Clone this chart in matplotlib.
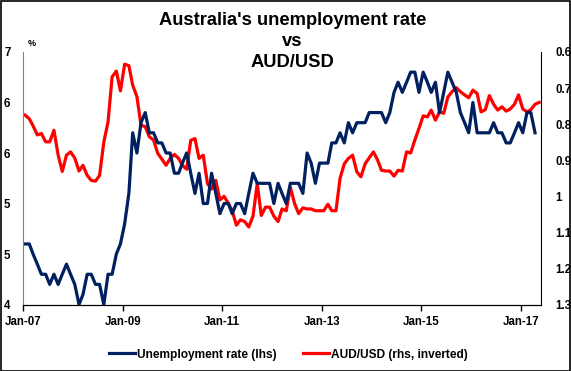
import math
import pandas as pd
import matplotlib
matplotlib.use("Agg")
import matplotlib.pyplot as plt
from matplotlib.ticker import FuncFormatter, FixedLocator
import matplotlib.dates as mdates

# monthly values from Jan-07
unemployment = [
    4.6, 4.6, 4.5, 4.4, 4.3, 4.3, 4.2, 4.3, 4.2, 4.3, 4.4, 4.3,
    4.2, 4.0, 4.1, 4.3, 4.3, 4.2, 4.2, 4.0, 4.3, 4.3, 4.5, 4.6,
    4.8, 5.1, 5.7, 5.5, 5.8, 5.9, 5.7, 5.7, 5.6, 5.6, 5.5, 5.5,
    5.3, 5.3, 5.4, 5.5, 5.3, 5.1, 5.3, 5.0, 5.0, 5.3, 5.1, 4.9,
    5.0, 5.0, 4.9, 5.0, 5.0, 4.9, 5.1, 5.3, 5.2, 5.2, 5.2, 5.2,
    5.0, 5.2, 5.1, 5.0, 5.2, 5.2, 5.2, 5.1, 5.5, 5.4, 5.2, 5.4,
    5.4, 5.4, 5.6, 5.6, 5.7, 5.6, 5.8, 5.7, 5.8, 5.8, 5.8, 5.9,
    5.9, 5.9, 5.9, 5.8, 5.9, 6.1, 6.2, 6.1, 6.2, 6.3, 6.3, 6.1,
    6.3, 6.2, 6.1, 6.2, 5.9, 6.1, 6.3, 6.2, 6.1, 5.9, 5.8, 5.7,
    6.0, 5.7, 5.7, 5.7, 5.7, 5.8, 5.7, 5.7, 5.6, 5.6, 5.7, 5.8,
    5.7, 5.9, 5.9, 5.7,
]
audusd = [
    0.775, 0.785, 0.805, 0.830, 0.826, 0.849, 0.849, 0.817, 0.886, 0.931, 0.886, 0.877,
    0.894, 0.930, 0.914, 0.942, 0.956, 0.958, 0.942, 0.850, 0.794, 0.669, 0.653, 0.708,
    0.634, 0.638, 0.692, 0.724, 0.803, 0.807, 0.835, 0.844, 0.881, 0.897, 0.914, 0.895,
    0.884, 0.895, 0.914, 0.925, 0.845, 0.840, 0.895, 0.886, 0.965, 0.980, 0.956, 1.010,
    1.000, 1.020, 1.040, 1.080, 1.065, 1.070, 1.085, 1.055, 0.965, 1.053, 1.030, 1.030,
    1.055, 1.070, 1.035, 1.040, 0.975, 1.020, 1.048, 1.032, 1.035, 1.035, 1.040, 1.040,
    1.040, 1.022, 1.040, 1.040, 0.950, 0.910, 0.895, 0.886, 0.932, 0.946, 0.910, 0.893,
    0.877, 0.900, 0.928, 0.930, 0.930, 0.944, 0.928, 0.930, 0.877, 0.880, 0.844, 0.812,
    0.777, 0.780, 0.761, 0.789, 0.766, 0.770, 0.725, 0.710, 0.699, 0.710, 0.719, 0.727,
    0.706, 0.715, 0.766, 0.760, 0.721, 0.745, 0.761, 0.752, 0.764, 0.758, 0.745, 0.719,
    0.758, 0.766, 0.760, 0.745, 0.740,
]
left_ticks = [4, 4.5, 5, 5.5, 6, 6.5]
right_ticks = [0.6, 0.7, 0.8, 0.9, 1.0, 1.1, 1.2, 1.3]
year_ticks = ["2007-01-01", "2009-01-01", "2011-01-01", "2013-01-01", "2015-01-01", "2017-01-01"]

months_u = pd.date_range("2007-01-01", periods=len(unemployment), freq="MS") + pd.Timedelta(days=15)
months_a = pd.date_range("2007-01-01", periods=len(audusd), freq="MS") + pd.Timedelta(days=15)

plt.rcParams['font.family'] = ['Liberation Sans', 'DejaVu Sans']
plt.rcParams['font.weight'] = 'bold'

navy = '#002060'
red = '#ff0000'

fig = plt.figure(figsize=(5.71, 3.71), dpi=100)
ax = fig.add_axes([0.0403, 0.179, 0.9077, 0.681])
ax2 = ax.twinx()

l1, = ax.plot(months_u, unemployment, color=navy, lw=2.3, label='Unemployment rate (lhs)')
l2, = ax2.plot(months_a, audusd, color=red, lw=2.3, label='AUD/USD (rhs, inverted)')
ax.set_zorder(ax2.get_zorder() + 1)
ax.patch.set_visible(False)

ax.set_xlim(pd.Timestamp("2007-01-01"), pd.Timestamp("2017-06-01"))
ax.set_ylim(4, 6.5)
ax2.set_ylim(1.3, 0.6)

ax.yaxis.set_major_locator(FixedLocator(left_ticks))
ax.yaxis.set_major_formatter(FuncFormatter(lambda v, p: str(int(math.floor(v + 0.5)))))
ax2.yaxis.set_major_locator(FixedLocator(right_ticks))
ax2.yaxis.set_major_formatter(FuncFormatter(lambda v, p: '%g' % round(v, 1)))

ax.xaxis.set_major_locator(FixedLocator([mdates.date2num(pd.Timestamp(d)) for d in year_ticks]))
ax.xaxis.set_major_formatter(mdates.DateFormatter('%b-%y'))

ax.tick_params(axis='x', length=4, width=1, direction='out', pad=4, labelsize=8.3)
ax.tick_params(axis='y', length=0, pad=9, labelsize=8.3)
ax2.tick_params(axis='y', length=0, pad=10, labelsize=8.3)

for a in (ax, ax2):
    a.spines['top'].set_visible(False)
ax.spines['left'].set_color('#808080')
ax.spines['right'].set_visible(False)
ax2.spines['left'].set_visible(False)
ax2.spines['right'].set_color('black')
ax.spines['bottom'].set_color('black')

fig.text(0.512, 0.968, "Australia's unemployment rate\nvs\nAUD/USD", ha='center', va='top',
         fontsize=13.2, fontweight='bold', linespacing=1.3)
fig.text(0.056, 0.884, '%', ha='center', va='center', fontsize=6.5)

fig.legend(handles=[l1, l2], loc='center', bbox_to_anchor=(0.505, 0.044), ncol=2, frameon=False,
           fontsize=8.6, handlelength=2.2, handletextpad=0.15, columnspacing=2.2)

fig.patches.append(plt.Rectangle((0.001, 0.001), 0.997, 0.996, transform=fig.transFigure,
                                 fill=False, edgecolor='black', lw=1.2))

fig.savefig('out.png', dpi=100)
